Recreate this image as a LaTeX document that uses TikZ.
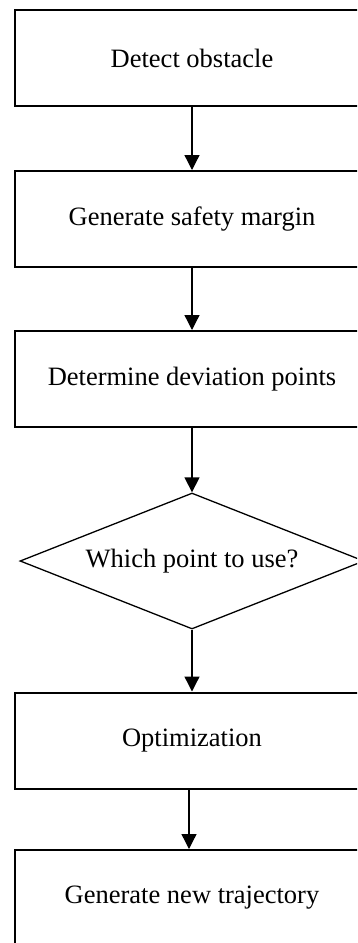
\documentclass[tikz,border=0pt]{standalone}
\usepackage{fontspec}
\setmainfont{Liberation Serif}
\usetikzlibrary{arrows.meta,shapes.geometric}
\begin{document}
\begin{tikzpicture}[x=1pt,y=-1pt,
  every node/.style={font=\fontsize{26.5}{30}\selectfont},
  stepbox/.style={draw,line width=2pt,rectangle,minimum width=354pt,minimum height=96pt,inner sep=0pt},
  decision/.style={draw,line width=1.3pt,diamond,minimum width=344pt,minimum height=136pt,inner sep=0pt,aspect=2.5},
  flow/.style={line width=1.3pt,-{Triangle[width=15pt,length=15pt]}}]
  \useasboundingbox (0,0) rectangle (357,943);
  \clip (0,0) rectangle (357,943);
  \fill[white] (0,0) rectangle (357,943);
  % process steps
  \node[stepbox] (detect) at (192,58) {Detect obstacle};
  \node[stepbox] (margin) at (192,219) {Generate safety margin};
  \node[stepbox] (points) at (192,379) {Determine deviation points};
  \node[decision] (choice) at (192,561) {Which point to use?};
  \node[stepbox] (optim) at (192,740.5) {Optimization};
  \node[stepbox] (traj) at (192,898) {Generate new trajectory};
  % connectors
  \draw[flow] (detect) -- (margin);
  \draw[flow] (margin) -- (points);
  \draw[flow] (points) -- (choice);
  \draw[flow] (choice) -- (optim);
  \coordinate (optout) at ([xshift=-3pt]optim.south);
  \draw[flow] (optout) -- (optout |- traj.north);
\end{tikzpicture}
\end{document}
